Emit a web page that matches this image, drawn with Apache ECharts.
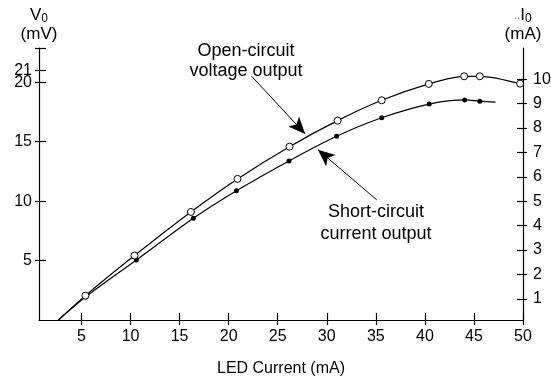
<!DOCTYPE html>
<html>
<head>
<meta charset="utf-8">
<script src="https://cdn.jsdelivr.net/npm/echarts@6/dist/echarts.min.js"></script>
<style>
  html, body { margin: 0; padding: 0; background: #fff; }
  #chart { width: 551px; height: 386px; }
</style>
</head>
<body>
<div id="chart"></div>
<script>
// LED current (mA) at each measured point, and the two outputs.
const ledOpen   = [2.65, 5.4, 10.4, 16.15, 20.9, 26.2, 31.1, 35.6, 40.4, 44.0, 45.6, 49.7];
const voltageMv = [0, 2.05, 5.42, 9.09, 11.87, 14.58, 16.77, 18.48, 19.86, 20.5, 20.5, 19.88];

const ledShort  = [2.65, 5.4, 10.6, 16.4, 20.8, 26.15, 31.0, 35.6, 40.44, 44.05, 45.6, 47.2];
const currentMa = [0.13, 1.07, 2.59, 4.30, 5.43, 6.65, 7.66, 8.42, 8.98, 9.15, 9.10, 9.06];

// Tick positions and labels
const xTicks = [5, 10, 15, 20, 25, 30, 35, 40, 45, 50];
const vTicks = [5, 10, 15, 20];
const vExtraTicks = [21];
const iTicks = [1, 2, 3, 4, 5, 6, 7, 8, 9, 10];

// Axis ranges
const xRange = [0.67, 50];
const vRange = [0, 22.88];
const iRange = [0.13, 11.28];

const FONT = 'Liberation Sans, Arial, Helvetica, sans-serif';
const INK = '#000';

function pairs(xs, ys, bareEnds) {
  return xs.map((x, i) => {
    const item = { value: [x, ys[i]] };
    if (bareEnds.includes(i)) item.symbol = 'none';
    return item;
  });
}

const axisLineStyle = { color: INK, width: 1.2 };
const tickLine = { color: INK, width: 1.2 };
const leftTickValues = vTicks.concat(vExtraTicks, [vRange[1]]);

const chart = echarts.init(document.getElementById('chart'), null, { renderer: 'canvas' });

chart.setOption({
  animation: false,
  backgroundColor: '#fff',
  textStyle: { fontFamily: FONT, color: INK },
  grid: { left: 39, right: 28, top: 48, bottom: 66, containLabel: false, outerBoundsMode: 'none' },
  xAxis: [
    {
      type: 'value', min: xRange[0], max: xRange[1],
      axisLine: { show: true, lineStyle: axisLineStyle },
      axisTick: { show: true, inside: true, length: 7, customValues: xTicks, lineStyle: tickLine },
      axisLabel: { customValues: xTicks, margin: 9, fontSize: 16, color: INK, fontFamily: FONT, hideOverlap: false },
      splitLine: { show: false },
      name: 'LED Current (mA)', nameLocation: 'middle', nameGap: 41,
      nameTextStyle: { fontSize: 16, color: INK, fontFamily: FONT }
    },
    {
      type: 'value', min: xRange[0], max: xRange[1], position: 'bottom',
      axisLine: { show: false },
      axisTick: { show: true, inside: false, length: 5, customValues: xTicks, lineStyle: tickLine },
      axisLabel: { show: false },
      splitLine: { show: false }
    }
  ],
  yAxis: [
    {
      type: 'value', position: 'left', min: vRange[0], max: vRange[1],
      axisLine: { show: true, lineStyle: axisLineStyle },
      axisTick: { show: true, inside: true, length: 7, customValues: leftTickValues, lineStyle: tickLine },
      axisLabel: { customValues: vTicks, margin: 7, fontSize: 16, color: INK, fontFamily: FONT, hideOverlap: false },
      splitLine: { show: false },
      name: '{v|V}{s|0}\n{u|(mV)}', nameLocation: 'end', nameGap: 5,
      nameTextStyle: {
        fontFamily: FONT, color: INK,
        rich: {
          v: { fontSize: 17, fontFamily: FONT, color: INK },
          s: { fontSize: 12, fontFamily: FONT, color: INK, verticalAlign: 'bottom', padding: [7, 0, 0, 0] },
          u: { fontSize: 17, fontFamily: FONT, color: INK, lineHeight: 18 }
        }
      }
    },
    {
      type: 'value', position: 'right', min: iRange[0], max: iRange[1],
      axisLine: { show: true, lineStyle: axisLineStyle },
      axisTick: { show: true, inside: true, length: 6, customValues: iTicks, lineStyle: tickLine },
      axisLabel: { customValues: iTicks, margin: 10, fontSize: 16, color: INK, fontFamily: FONT, hideOverlap: false },
      splitLine: { show: false },
      name: '{m|..}{v|I}{s|0}\n{u|(mA)}', nameLocation: 'end', nameGap: 5,
      nameTextStyle: {
        fontFamily: FONT, color: INK,
        rich: {
          m: { fontSize: 11, fontFamily: FONT, color: '#777' },
          v: { fontSize: 17, fontFamily: FONT, color: INK },
          s: { fontSize: 12, fontFamily: FONT, color: INK, verticalAlign: 'bottom', padding: [7, 0, 0, 0] },
          u: { fontSize: 17, fontFamily: FONT, color: INK, lineHeight: 18 }
        }
      }
    },
    {
      // outer half of the crossing ticks on the voltage axis, plus the "21" label
      type: 'value', position: 'left', min: vRange[0], max: vRange[1],
      axisLine: { show: false },
      axisTick: { show: true, inside: false, length: 4, customValues: leftTickValues, lineStyle: tickLine },
      axisLabel: { show: true, customValues: vExtraTicks, margin: 7, fontSize: 16, color: INK, fontFamily: FONT, hideOverlap: false },
      splitLine: { show: false }
    },
    {
      type: 'value', position: 'right', min: iRange[0], max: iRange[1],
      axisLine: { show: false },
      axisTick: { show: true, inside: false, length: 4, customValues: iTicks, lineStyle: tickLine },
      axisLabel: { show: false },
      splitLine: { show: false }
    }
  ],
  series: [
    {
      name: 'Short-circuit current output',
      type: 'line', xAxisIndex: 0, yAxisIndex: 1,
      smooth: 0.3,
      data: pairs(ledShort, currentMa, [0, ledShort.length - 1]),
      symbol: 'circle', symbolSize: 5,
      itemStyle: { color: INK, borderColor: INK, borderWidth: 0 },
      lineStyle: { color: INK, width: 1.2 },
      emphasis: { disabled: true },
      z: 2
    },
    {
      name: 'Open-circuit voltage output',
      type: 'line', xAxisIndex: 0, yAxisIndex: 0,
      smooth: 0.3,
      data: pairs(ledOpen, voltageMv, [0]),
      symbol: 'circle', symbolSize: 7,
      itemStyle: { color: '#fff', borderColor: INK, borderWidth: 1 },
      lineStyle: { color: INK, width: 1.2 },
      emphasis: { disabled: true },
      z: 3,
      markLine: {
        silent: true,
        symbol: ['none', 'arrow'],
        symbolSize: [11, 17],
        label: { show: false },
        lineStyle: { color: INK, width: 1, type: 'solid' },
        emphasis: { disabled: true },
        data: [
          [{ coord: [22.35, 20.5] }, { coord: [27.8, 15.65] }],
          [{ coord: [35.1, 10.1] }, { coord: [29.1, 14.33] }]
        ]
      }
    }
  ],
  graphic: [
    {
      type: 'text', x: 246, y: 61, silent: true,
      style: {
        text: 'Open-circuit\nvoltage output', fill: INK,
        font: '18px ' + FONT, lineHeight: 20,
        align: 'center', verticalAlign: 'middle',
        textAlign: 'center', textVerticalAlign: 'middle'
      }
    },
    {
      type: 'text', x: 376, y: 223, silent: true,
      style: {
        text: 'Short-circuit\ncurrent output', fill: INK,
        font: '18px ' + FONT, lineHeight: 22,
        align: 'center', verticalAlign: 'middle',
        textAlign: 'center', textVerticalAlign: 'middle'
      }
    }
  ]
});
</script>
</body>
</html>
